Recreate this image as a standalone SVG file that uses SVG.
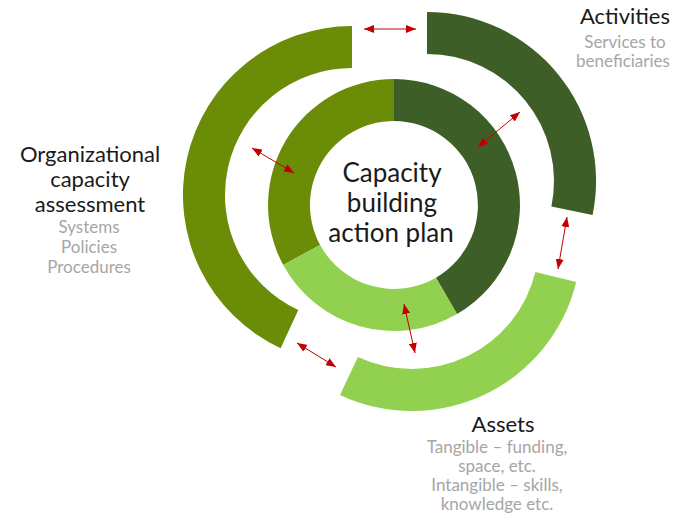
<svg xmlns="http://www.w3.org/2000/svg" width="675" height="523" viewBox="0 0 675 523">
  <style>
    .olive { fill: #6a8c07; }
    .dark { fill: #3e5e27; }
    .light { fill: #92d050; }
    .title { font-family: Lato, "Liberation Sans", sans-serif; font-size: 22px; fill: #1a1a1a; text-anchor: middle; }
    .center { font-family: Lato, "Liberation Sans", sans-serif; font-size: 26px; fill: #1a1a1a; text-anchor: middle; }
    .sub { font-family: Lato, "Liberation Sans", sans-serif; font-size: 17px; fill: #a6a6a6; text-anchor: middle; }
    .link { stroke: #c00000; stroke-width: 1; fill: none; marker-start: url(#head); marker-end: url(#head); }
  </style>
  <defs>
    <marker id="head" viewBox="0 0 10 8" refX="10" refY="4" markerWidth="10" markerHeight="8" markerUnits="userSpaceOnUse" orient="auto-start-reverse">
      <path d="M0,0 L10,4 L0,8 Z" fill="#c00000"/>
    </marker>
  </defs>

  <rect width="675" height="523" fill="#ffffff"/>

  <!-- inner ring: capacity building action plan -->
  <g id="inner-ring">
    <path class="olive" d="M 283.2 264.9 A 126 126 0 0 1 394 79 L 394 121 A 84 84 0 0 0 320.1 245 Z"/>
    <path class="dark" d="M 394 79 A 126 126 0 0 1 457 314.1 L 436 277.7 A 84 84 0 0 0 394 121 Z"/>
    <path class="light" d="M 457 314.1 A 126 126 0 0 1 283.2 264.9 L 320.1 245 A 84 84 0 0 0 436 277.7 Z"/>
  </g>

  <g id="action-plan">
    <text class="center" x="392" y="182">Capacity</text>
    <text class="center" x="392" y="212">building</text>
    <text class="center" x="391" y="242">action plan</text>
  </g>

  <!-- outer segments -->
  <g id="assessment">
    <path class="olive" d="M 280.6 348.2 A 169 169 0 0 1 352 26 L 352 68 A 127 127 0 0 0 298.3 310.1 Z"/>
    <text class="title" x="90" y="162">Organizational</text>
    <text class="title" x="90" y="187">capacity</text>
    <text class="title" x="90" y="212">assessment</text>
    <text class="sub" x="89" y="233">Systems</text>
    <text class="sub" x="89" y="253">Policies</text>
    <text class="sub" x="89" y="273">Procedures</text>
  </g>

  <g id="activities">
    <path class="dark" d="M 427 12 A 169 169 0 0 1 592.6 215 L 551.4 206.5 A 127 127 0 0 0 427 54 Z"/>
    <text class="title" x="625" y="24">Activities</text>
    <text class="sub" x="625" y="48">Services to</text>
    <text class="sub" x="623" y="67">beneficiaries</text>
  </g>

  <g id="assets">
    <path class="light" d="M 576.2 282 A 169 169 0 0 1 340 394.9 L 357.9 356.9 A 127 127 0 0 0 535.4 272.1 Z"/>
    <text class="title" x="503" y="432">Assets</text>
    <text class="sub" x="497" y="453">Tangible – funding,</text>
    <text class="sub" x="497" y="472">space, etc.</text>
    <text class="sub" x="497" y="491">Intangible – skills,</text>
    <text class="sub" x="497" y="510">knowledge etc.</text>
  </g>

  <!-- two-way links -->
  <g id="connectors">
    <line class="link" x1="364" y1="29" x2="416" y2="29"/>
    <line class="link" x1="252" y1="148" x2="294" y2="173"/>
    <line class="link" x1="478" y1="147" x2="520" y2="112"/>
    <line class="link" x1="567" y1="217" x2="558" y2="269"/>
    <line class="link" x1="404" y1="304" x2="415" y2="353"/>
    <line class="link" x1="297" y1="343" x2="336" y2="367"/>
  </g>
</svg>
